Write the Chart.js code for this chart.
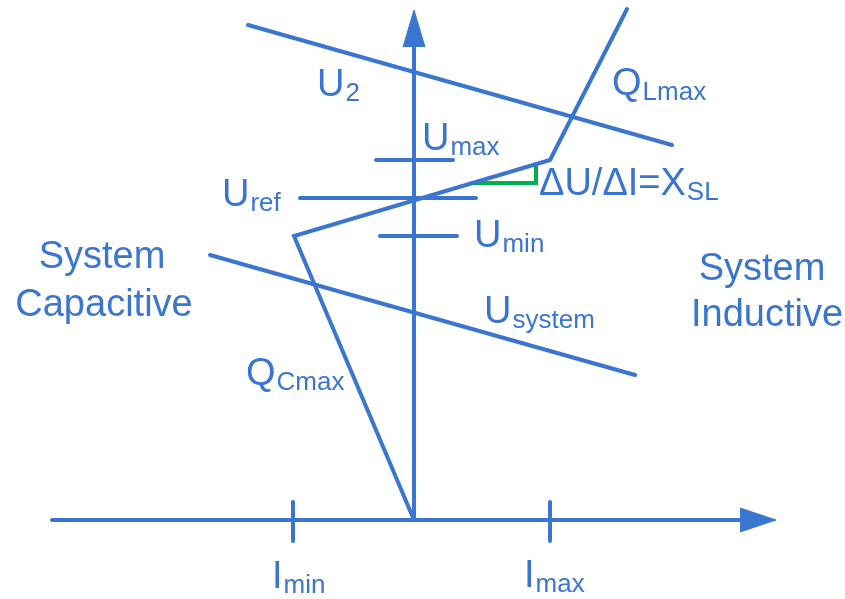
<!DOCTYPE html>
<html>
<head>
<meta charset="utf-8">
<script src="https://cdn.jsdelivr.net/npm/chart.js@4.4.0/dist/chart.umd.min.js"></script>
<style>
  html, body { margin: 0; padding: 0; background: #fff; }
  #wrap { width: 845px; height: 599px; position: relative; }
</style>
</head>
<body>
<div id="wrap"><canvas id="chart"></canvas></div>
<script>
// diagram units: I along x, U along y, origin where the axes cross
const xRange = [-414, 431]
const yRange = [-79, 520]

const axisI = [[-362, 0], [326, 0]]
const axisU = [[0, 0], [0, 473]]
const arrowI = [[326, 12], [362, 0], [326, -12]]
const arrowU = [[-11, 473], [0, 510], [11, 473]]
const tickImin = [[-121, 18], [-121, -21]]
const tickImax = [[136, 18], [136, -21]]
const lineU2 = [[-166, 495], [258, 375]]
const lineUsystem = [[-204, 265], [221, 145]]
const qCharacteristic = [[0, 0], [-120, 284], [136, 360], [213, 511]]
const tickUmax = [[-38, 360], [39, 360]]
const tickUref = [[-114, 322], [62, 322]]
const tickUmin = [[-34, 284], [43, 284]]
const slopeMark = [[58, 337], [122, 337], [122, 356]]

const labelText = [
  ['U', '2'], ['Q', 'Lmax'], ['U', 'max'], ['U', 'ref'], ['U', 'min'],
  ['U', 'system'], ['Q', 'Cmax'], ['ΔU/ΔI=X', 'SL'], ['I', 'min'], ['I', 'max']
]
const labelAt = [
  [-97, 424], [198, 425], [8, 370], [-192, 314], [60, 273],
  [70, 197], [-168, 135], [125, 325], [-142, -68], [110, -67]
]
const sideText = ['System', 'Capacitive', 'System', 'Inductive']
const sideAt = [[-312, 252], [-310, 204], [348, 240], [353, 194]]

const blue = '#3a76d0'
const green = '#00b050'
const pts = arr => arr.map(p => ({ x: p[0], y: p[1] }))

function seg(data, color, extra) {
  return Object.assign({
    data: pts(data),
    showLine: true,
    borderColor: color || blue,
    borderWidth: 4,
    pointRadius: 0,
    borderCapStyle: 'round',
    borderJoinStyle: 'miter',
    fill: false
  }, extra || {})
}

const labelsPlugin = {
  id: 'labels',
  afterDatasetsDraw(chart) {
    const ctx = chart.ctx
    const sx = chart.scales.x, sy = chart.scales.y
    ctx.save()
    ctx.fillStyle = blue
    ctx.textBaseline = 'alphabetic'
    labelText.forEach((t, i) => {
      const px = sx.getPixelForValue(labelAt[i][0])
      const py = sy.getPixelForValue(labelAt[i][1])
      ctx.textAlign = 'left'
      ctx.font = '38px "Liberation Sans", Arial, sans-serif'
      ctx.fillText(t[0], px, py)
      const w = ctx.measureText(t[0]).width
      ctx.font = '26px "Liberation Sans", Arial, sans-serif'
      ctx.fillText(t[1], px + w + 1, py + 5)
    })
    ctx.textAlign = 'center'
    ctx.font = '38px "Liberation Sans", Arial, sans-serif'
    sideText.forEach((t, i) => {
      ctx.fillText(t, sx.getPixelForValue(sideAt[i][0]), sy.getPixelForValue(sideAt[i][1]))
    })
    ctx.restore()
  }
}

new Chart(document.getElementById('chart'), {
  type: 'scatter',
  data: {
    datasets: [
      seg(lineU2),
      seg(lineUsystem),
      seg(qCharacteristic),
      seg(tickUmax),
      seg(tickUref),
      seg(tickUmin),
      seg(slopeMark, green),
      seg(axisI),
      seg(axisU),
      seg(tickImin),
      seg(tickImax),
      seg(arrowI, blue, { fill: 'shape', backgroundColor: blue, borderWidth: 1 }),
      seg(arrowU, blue, { fill: 'shape', backgroundColor: blue, borderWidth: 1 })
    ]
  },
  options: {
    responsive: true,
    maintainAspectRatio: false,
    animation: false,
    events: [],
    layout: { padding: 0 },
    plugins: { legend: { display: false }, tooltip: { enabled: false } },
    scales: {
      x: { type: 'linear', display: false, min: xRange[0], max: xRange[1] },
      y: { type: 'linear', display: false, min: yRange[0], max: yRange[1] }
    }
  },
  plugins: [labelsPlugin]
})
</script>
</body>
</html>
